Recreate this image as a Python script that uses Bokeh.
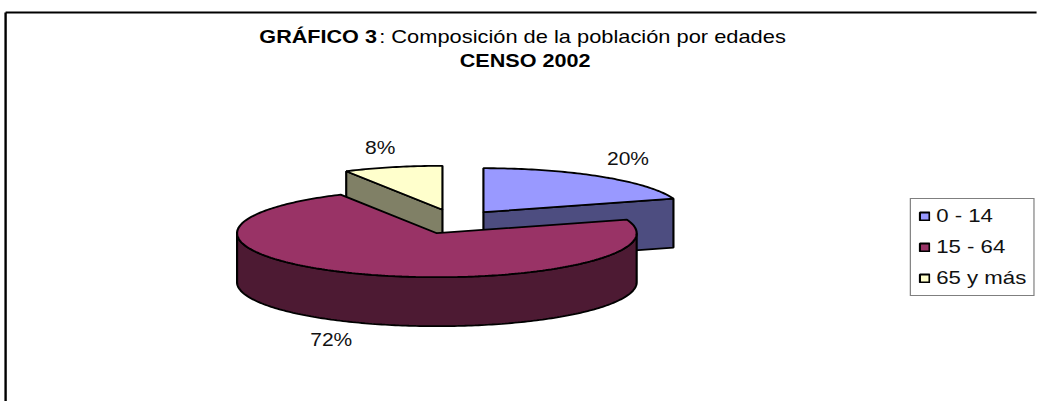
import math
from bokeh.core.properties import value
from bokeh.embed import file_html
from bokeh.models import Legend, LegendItem
from bokeh.plotting import figure
from bokeh.resources import INLINE

# data
categories = ["0 - 14", "15 - 64", "65 y más"]
shares = [20, 72, 8]
title_bold = "GRÁFICO 3"
title_rest = ": Composición de la población por edades"
title_line2 = "CENSO 2002"

# style
top_colors = ["#9999FF", "#993366", "#FFFFCC"]
wall_colors = ["#4D4D80", "#4D1A33", "#808066"]
centers = [(483.3, 211.7), (436.7, 232.7), (442.3, 209.3)]
label_pos = [(628, 159), (331, 340), (380, 148)]
RX, RY, DEPTH = 200.0, 44.0, 49.0
FONT = "Liberation Sans"
INK = "#000000"
LW = 1.8
STRETCH = 1.2
W = int(1037 / STRETCH)
SCALE = 1037 / W

p = figure(width=W, height=401, x_range=(0, 1037 * SCALE), y_range=(401, 0),
           output_backend="svg", toolbar_location=None, min_border=0,
           outline_line_color=None,
           background_fill_color="white", border_fill_color="white",
           styles={"transform": f"scaleX({SCALE:.4f})", "transform-origin": "0 0"})
p.axis.visible = False
p.grid.visible = False

# frame: only the top and left edges show
p.line([5, 5], [401, 12], line_color="#000000", line_width=2)
p.line([5, 1037], [12, 12], line_color="#000000", line_width=2)


def ell(c, t_deg, drop=0.0):
    t = math.radians(t_deg)
    return c[0] + RX * math.sin(t), c[1] - RY * math.cos(t) + drop


def arc(c, a, b, drop=0.0):
    n = max(2, int(abs(b - a)) + 1)
    pts = [ell(c, a + (b - a) * i / (n - 1), drop) for i in range(n)]
    return [q[0] for q in pts], [q[1] for q in pts]


starts = []
acc = 0.0
for s in shares:
    starts.append(acc)
    acc += s * 3.6
ends = [st + s * 3.6 for st, s in zip(starts, shares)]

tops = {}
for i in (0, 2, 1):   # back slices first, large front slice last
    c, a, b = centers[i], starts[i], ends[i]
    if i == 0:
        ex, ey = ell(c, b)
        p.patch([c[0], ex, ex, c[0]], [c[1], ey, ey + DEPTH, c[1] + DEPTH],
                fill_color=wall_colors[i], line_color=INK, line_width=LW)
    if i == 2:
        ex, ey = ell(c, a)
        p.patch([c[0], ex, ex, c[0]], [c[1], ey, ey + DEPTH, c[1] + DEPTH],
                fill_color=wall_colors[i], line_color=INK, line_width=LW)
    if i == 1:
        xa, ya = arc(c, 90, 270)
        xb, yb = arc(c, 270, 90, DEPTH)
        p.patch(xa + xb, ya + yb, fill_color=wall_colors[i], line_color=INK, line_width=LW)
    xs, ys = arc(c, a, b)
    tops[i] = p.patch([c[0]] + xs, [c[1]] + ys, fill_color=top_colors[i],
                      line_color=INK, line_width=LW)

# data labels
p.text([q[0] for q in label_pos], [q[1] for q in label_pos],
       text=[f"{s}%" for s in shares], text_font=value(FONT), text_font_size="17.5px",
       text_color="#111111", text_align="center", text_baseline="middle")

# title
p.text([259], [36], text=[title_bold], text_font=value(FONT), text_font_size="18px",
       text_font_style="bold", text_color="#000000", text_baseline="middle")
p.text([379], [36], text=[title_rest], text_font=value(FONT), text_font_size="18.2px",
       text_color="#000000", text_baseline="middle")
p.text([525], [60], text=[title_line2], text_font=value(FONT), text_font_size="18px",
       text_font_style="bold", text_color="#000000", text_align="center", text_baseline="middle")

# legend
legend = Legend(
    items=[LegendItem(label=categories[i], renderers=[tops[i]]) for i in range(3)],
    location=(int(910 / SCALE), 105), orientation="vertical",
    label_text_font=FONT, label_text_font_size="18.5px", label_text_color="#111111",
    glyph_width=10, glyph_height=10, label_standoff=5, spacing=9,
    label_height=21, padding=6, margin=0,
    border_line_color="#000000", border_line_width=1, background_fill_color="white",
)
p.add_layout(legend)

open("out.html", "w").write(file_html(p, INLINE))
